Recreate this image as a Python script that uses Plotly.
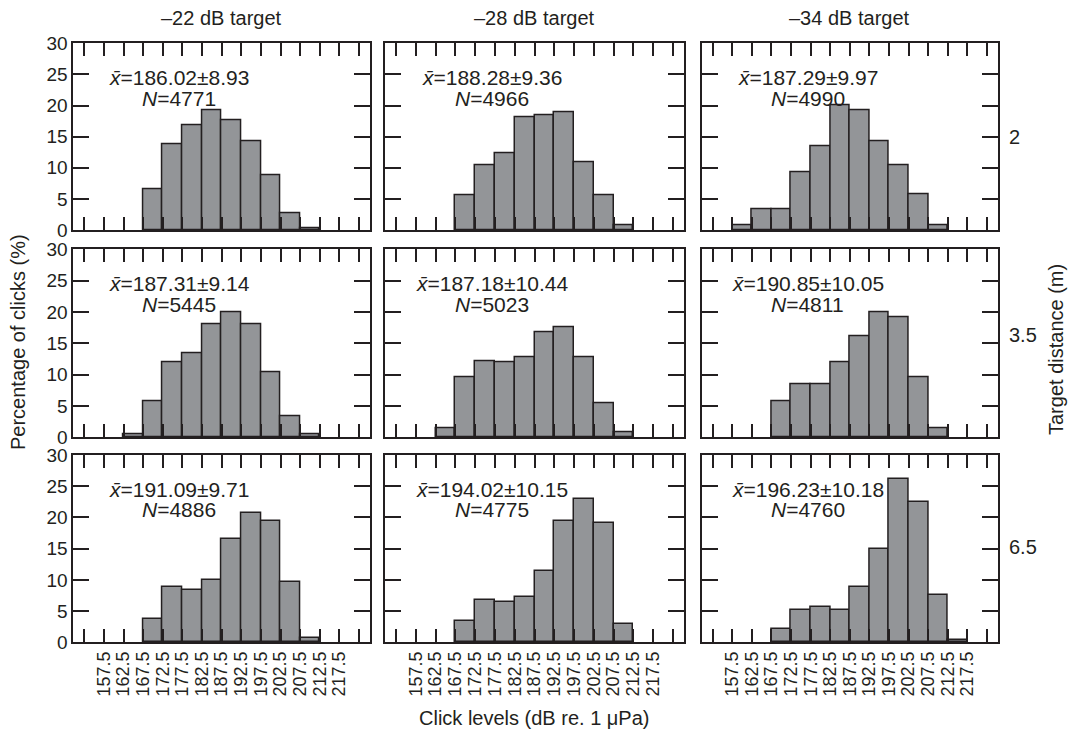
import plotly.graph_objects as go

# ---------------- data ----------------
targets = ["\u201322 dB target", "\u201328 dB target", "\u201334 dB target"]
distances = ["2", "3.5", "6.5"]

# lower edges of the 5-dB bins
bin_lower = [157.5, 162.5, 167.5, 172.5, 177.5, 182.5, 187.5, 192.5, 197.5, 202.5, 207.5, 212.5]
tick_labels = ["157.5", "162.5", "167.5", "172.5", "177.5", "182.5", "187.5",
               "192.5", "197.5", "202.5", "207.5", "212.5", "217.5"]

# percentage of clicks per bin (rows: distance, cols: target)
pct_22_2 = [0, 0, 6.5, 13.8, 16.9, 19.2, 17.7, 14.2, 8.8, 2.7, 0.3, 0]
pct_28_2 = [0, 0, 5.5, 10.4, 12.4, 18.1, 18.5, 18.9, 10.8, 5.5, 0.7, 0]
pct_34_2 = [0.8, 3.4, 3.4, 9.2, 13.5, 20.0, 19.3, 14.2, 10.4, 5.8, 0.8, 0]
pct_22_35 = [0, 0.4, 5.7, 11.9, 13.4, 18.0, 19.9, 18.0, 10.3, 3.4, 0.4, 0]
pct_28_35 = [0, 1.5, 9.6, 12.2, 11.9, 12.7, 16.8, 17.6, 12.7, 5.4, 0.8, 0]
pct_34_35 = [0, 0, 5.7, 8.4, 8.4, 11.9, 16.1, 19.9, 19.1, 9.6, 1.4, 0]
pct_22_65 = [0, 0, 3.7, 8.8, 8.4, 9.9, 16.5, 20.7, 19.5, 9.6, 0.75, 0]
pct_28_65 = [0, 0, 3.4, 6.8, 6.5, 7.2, 11.4, 19.5, 23.0, 19.1, 3.0, 0]
pct_34_65 = [0, 0, 2.2, 5.2, 5.7, 5.2, 8.8, 14.9, 26.1, 22.5, 7.6, 0.3]

means = ["186.02\u00b18.93", "188.28\u00b19.36", "187.29\u00b19.97",
         "187.31\u00b19.14", "187.18\u00b110.44", "190.85\u00b110.05",
         "191.09\u00b19.71", "194.02\u00b110.15", "196.23\u00b110.18"]
counts = ["4771", "4966", "4990", "5445", "5023", "4811", "4886", "4775", "4760"]

series = [pct_22_2, pct_28_2, pct_34_2,
          pct_22_35, pct_28_35, pct_34_35,
          pct_22_65, pct_28_65, pct_34_65]

# ---------------- layout geometry ----------------
W, H = 1072, 730
col_px = [(73.3, 370.0), (385.0, 684.0), (701.7, 998.0)]
row_px = [(43.3, 230.0), (249.3, 437.3), (455.0, 642.3)]

FONT = "Liberation Sans, Arial, Helvetica, sans-serif"
INK = "#231f20"
BAR = "#939598"

fig = go.Figure()
layout = dict(
    template="none",
    width=W, height=H,
    margin=dict(l=0, r=0, t=0, b=0, pad=0, autoexpand=False),
    paper_bgcolor="white", plot_bgcolor="white",
    font=dict(family=FONT, color=INK, size=19),
    showlegend=False,
    bargap=0,
)

edge_ticks = [bin_lower[0] - 5] + [float(t) for t in tick_labels] + [float(tick_labels[-1]) + 5]
annotations = []

for r in range(3):
    for c in range(3):
        i = r * 3 + c + 1
        vals = series[i - 1]
        centers = [b + 2.5 for b in bin_lower]
        fig.add_trace(go.Bar(
            x=centers, y=[v if v > 0 else None for v in vals], width=5,
            xaxis=f"x{i}", yaxis=f"y{i}",
            marker=dict(color=BAR, line=dict(color=INK, width=1.5)),
            hoverinfo="x+y",
        ))
        x0, x1 = col_px[c]
        y0, y1 = row_px[r]
        bottom = (r == 2)
        layout[f"xaxis{i}"] = dict(
            domain=[x0 / W, x1 / W], anchor=f"y{i}",
            range=[149.7, 225.3], automargin=False,
            tickmode="array", tickvals=edge_ticks,
            ticktext=([""] + tick_labels + [""]) if bottom else [""] * len(edge_ticks),
            showticklabels=bottom, tickangle=-90,
            tickfont=dict(size=18, family=FONT, color=INK),
            ticks="inside", ticklen=13, tickwidth=1.5, tickcolor=INK,
            showline=True, linecolor=INK, linewidth=1.8, mirror="ticks",
            showgrid=False, zeroline=False, fixedrange=True,
        )
        layout[f"yaxis{i}"] = dict(
            domain=[(H - y1) / H, (H - y0) / H], anchor=f"x{i}",
            range=[0, 30], automargin=False,
            tickmode="array", tickvals=[0, 5, 10, 15, 20, 25, 30],
            showticklabels=(c == 0),
            tickfont=dict(size=19, family=FONT, color=INK),
            ticks="inside", ticklen=16, tickwidth=1.5, tickcolor=INK,
            showline=True, linecolor=INK, linewidth=1.8, mirror="ticks",
            showgrid=False, zeroline=False, fixedrange=True,
        )
        annotations.append(dict(
            xref=f"x{i}", yref=f"y{i}", x=176.7, y=24.5,
            text=f"<i>x\u0304</i>={means[i - 1]}", showarrow=False,
            xanchor="center", yanchor="middle",
            font=dict(size=21, family=FONT, color=INK),
        ))
        annotations.append(dict(
            xref=f"x{i}", yref=f"y{i}", x=176.7, y=21.2,
            text=f"<i>N</i>={counts[i - 1]}", showarrow=False,
            xanchor="center", yanchor="middle",
            font=dict(size=21, family=FONT, color=INK),
        ))

# column titles
for c in range(3):
    x0, x1 = col_px[c]
    annotations.append(dict(
        xref="paper", yref="paper", x=(x0 + x1) / 2 / W, y=(H - 18) / H,
        text=targets[c], showarrow=False, xanchor="center", yanchor="middle",
        font=dict(size=20, family=FONT, color=INK),
    ))

# row labels
row_label_y = [137, 335, 547]
for r in range(3):
    annotations.append(dict(
        xref="paper", yref="paper", x=1007 / W, y=(H - row_label_y[r]) / H,
        text=distances[r], showarrow=False, xanchor="left", yanchor="middle",
        font=dict(size=20, family=FONT, color=INK),
    ))

annotations.append(dict(
    xref="paper", yref="paper", x=1056 / W, y=(H - 350) / H,
    text="Target distance (m)", textangle=-90, showarrow=False,
    xanchor="center", yanchor="middle",
    font=dict(size=20, family=FONT, color=INK),
))
annotations.append(dict(
    xref="paper", yref="paper", x=18 / W, y=(H - 342) / H,
    text="Percentage of clicks (%)", textangle=-90, showarrow=False,
    xanchor="center", yanchor="middle",
    font=dict(size=20, family=FONT, color=INK),
))
annotations.append(dict(
    xref="paper", yref="paper", x=534 / W, y=(H - 718) / H,
    text="Click levels (dB re. 1 \u03bcPa)", showarrow=False,
    xanchor="center", yanchor="middle",
    font=dict(size=20, family=FONT, color=INK),
))

layout["annotations"] = annotations
fig.update_layout(**layout)
fig.write_html(
    "out.html",
    config={"displayModeBar": False},
    post_script="document.body.style.margin='0';document.body.style.overflow='hidden';",
)
